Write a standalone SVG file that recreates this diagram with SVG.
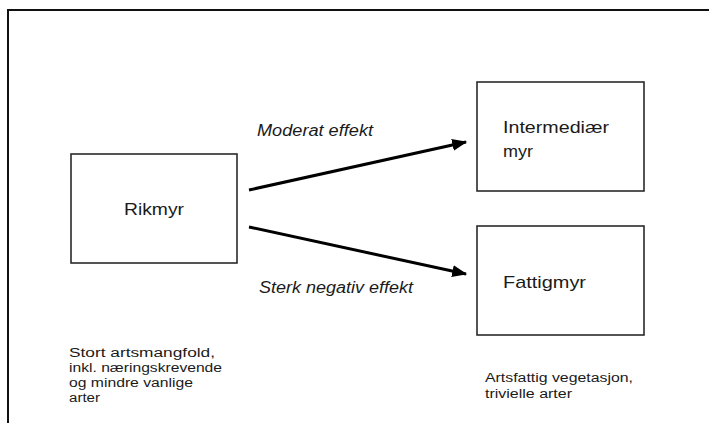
<svg xmlns="http://www.w3.org/2000/svg" width="709" height="423" viewBox="0 0 709 423">
  <style>
    .box { fill: #ffffff; stroke: #2a2a2a; stroke-width: 1.6; }
    .t { font-family: "Liberation Sans", Arial, sans-serif; fill: #1a1a1a; }
    .big { font-size: 17px; }
    .lbl { font-size: 16px; font-style: italic; }
    .small { font-size: 12.5px; }
    .edge { stroke: #000000; stroke-width: 3; fill: none; marker-end: url(#arrow); }
  </style>
  <defs>
    <marker id="arrow" markerWidth="5" markerHeight="4" refX="4.6" refY="2" orient="auto" markerUnits="strokeWidth">
      <path d="M0,0 L5,2 L0,4 Z" fill="#000000"/>
    </marker>
  </defs>

  <rect x="0" y="0" width="709" height="423" fill="#ffffff"/>

  <!-- page frame: top and left edges -->
  <g id="frame" stroke="#111111" stroke-width="2" fill="none">
    <path d="M8,423 L8,10 L709,10"/>
  </g>

  <g id="rikmyr">
    <rect class="box" x="71" y="154" width="166" height="109"/>
    <text class="t big" x="124" y="215" textLength="60" lengthAdjust="spacingAndGlyphs">Rikmyr</text>
  </g>

  <g id="intermediaer">
    <rect class="box" x="477" y="82" width="167" height="109"/>
    <text class="t big" x="503" y="133" textLength="106" lengthAdjust="spacingAndGlyphs">Intermediær</text>
    <text class="t big" x="503" y="157" textLength="30" lengthAdjust="spacingAndGlyphs">myr</text>
  </g>

  <g id="fattigmyr">
    <rect class="box" x="477" y="226" width="167" height="109"/>
    <text class="t big" x="503" y="288" textLength="83" lengthAdjust="spacingAndGlyphs">Fattigmyr</text>
  </g>

  <g id="connectors">
    <line class="edge" x1="249" y1="190" x2="466" y2="142"/>
    <line class="edge" x1="249" y1="227" x2="466" y2="274"/>
    <text class="t lbl" x="257" y="136" textLength="116" lengthAdjust="spacingAndGlyphs">Moderat effekt</text>
    <text class="t lbl" x="259" y="293" textLength="154" lengthAdjust="spacingAndGlyphs">Sterk negativ effekt</text>
  </g>

  <g id="note-rik">
    <text class="t small" x="69" y="357" textLength="146" lengthAdjust="spacingAndGlyphs">Stort artsmangfold,</text>
    <text class="t small" x="69" y="372" textLength="153" lengthAdjust="spacingAndGlyphs">inkl. næringskrevende</text>
    <text class="t small" x="69" y="387" textLength="124" lengthAdjust="spacingAndGlyphs">og mindre vanlige</text>
    <text class="t small" x="69" y="402" textLength="31" lengthAdjust="spacingAndGlyphs">arter</text>
  </g>

  <g id="note-fattig">
    <text class="t small" x="485" y="382" textLength="148" lengthAdjust="spacingAndGlyphs">Artsfattig vegetasjon,</text>
    <text class="t small" x="485" y="398" textLength="87" lengthAdjust="spacingAndGlyphs">trivielle arter</text>
  </g>
</svg>
